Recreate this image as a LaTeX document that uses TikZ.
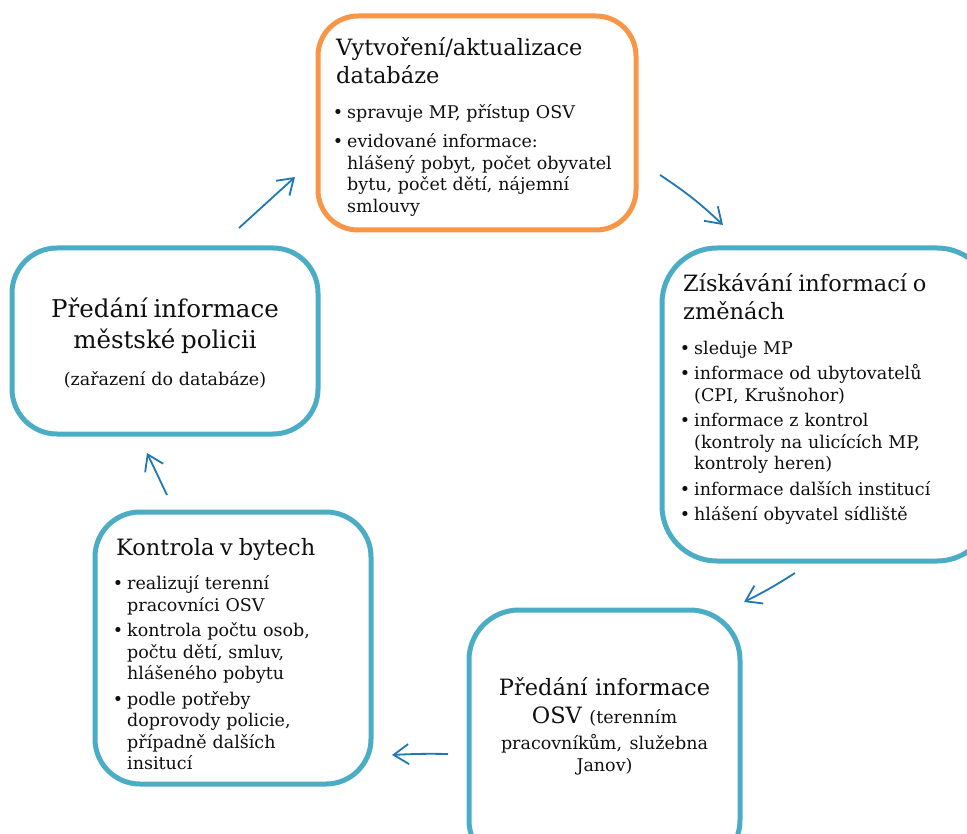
\documentclass[tikz,border=0pt]{standalone}
\usepackage{fontspec}
\setmainfont{DejaVu Serif}
\usepackage{enumitem}
\usepackage{tikz}
\usetikzlibrary{positioning}
\usetikzlibrary{calc}
\usetikzlibrary{arrows.meta}

\definecolor{boxblue}{RGB}{75,172,198}
\definecolor{boxorange}{RGB}{247,150,70}
\definecolor{arrowblue}{RGB}{31,119,180}
\definecolor{textgray}{RGB}{15,15,15}

\newcommand{\hdfont}{\fontsize{22.5}{28}\selectfont}
\newcommand{\bdfont}{\fontsize{17.5}{21.5}\selectfont}
\setlist[itemize]{label=\textbullet, leftmargin=11pt, labelsep=4pt, topsep=13pt, partopsep=0pt, parsep=0pt, itemsep=4pt}

\begin{document}
\begin{tikzpicture}[x=1pt, y=-1pt,
  box/.style={draw=boxblue, line width=5pt, rounded corners=45pt, anchor=north west, inner sep=0pt, outer sep=0pt},
  txt/.style={inner sep=0pt, anchor=base west, align=left, font=\bdfont, text=textgray},
  flow/.style={draw=arrowblue, line width=1.8pt, -{Straight Barb[length=15pt,width=20pt]}}]
\useasboundingbox (0,0) rectangle (967,834);

% boxes
\node[box, draw=boxorange, rounded corners=40pt, minimum width=318pt, minimum height=214pt] (db) at (318,16) {};
\node[box, rounded corners=55pt, minimum width=330pt, minimum height=313pt] (zmeny) at (662,248) {};
\node[box, rounded corners=50pt, minimum width=271pt, minimum height=260pt] (osv) at (469,610) {};
\node[box, minimum width=276pt, minimum height=272pt] (kontrola) at (95,512) {};
\node[box, minimum width=306pt, minimum height=186pt] (policie) at (12,248) {};

% texts
\node[txt, text width=290pt] (dbtxt) at ($(db.north west)+(18,40)$) {{\hdfont Vytvoření/aktualizace\\databáze\par}
\begin{itemize}[itemsep=8pt]
\item spravuje MP, přístup OSV
\item evidované informace:\\hlášený pobyt, počet obyvatel\\bytu, počet dětí, nájemní\\smlouvy
\end{itemize}};

\node[txt, text width=280pt] (zmtxt) at ($(zmeny.north west)+(21,44)$) {{\hdfont Získávání informací o\\změnách\par}
\begin{itemize}
\item sleduje MP
\item informace od ubytovatelů\\(CPI, Krušnohor)
\item informace z kontrol\\(kontroly na ulicících MP,\\kontroly heren)
\item informace dalších institucí
\item hlášení obyvatel sídliště
\end{itemize}};

\node[txt, text width=250pt] (ktxt) at ($(kontrola.north west)+(21,43)$) {{\hdfont Kontrola v bytech\par}
\begin{itemize}
\item realizují terenní\\pracovníci OSV
\item kontrola počtu osob,\\počtu dětí, smluv,\\hlášeného pobytu
\item podle potřeby\\doprovody policie,\\případně dalších\\insitucí
\end{itemize}};

\node[txt, anchor=base, align=center, text width=290pt] (poltxt) at ($(policie.north)+(0,70)$) {{\fontsize{24.5}{31}\selectfont Předání informace\\městské policii\par}
\vspace{15pt}
(zařazení do databáze)};

\node[txt, anchor=base, align=center, text width=260pt, font=\hdfont] (osvtxt) at ($(osv.north)+(0,85)$) {Předání informace\\OSV {\bdfont (terenním}\\[-2pt]{\bdfont pracovníkům, služebna}\\[-6pt]{\bdfont Janov)}};

% arrows
\coordinate (a1) at (239,228); \coordinate (b1) at (295,177);
\coordinate (a2) at (660,175); \coordinate (b2) at (723,225);
\coordinate (a3) at (795,573); \coordinate (b3) at (744,602);
\coordinate (a4) at (448,754); \coordinate (b4) at (392,755);
\coordinate (a5) at (167,495); \coordinate (b5) at (147,453);

\draw[flow] (a1) -- (b1);
\draw[flow] (a2) to[bend left=5] (b2);
\draw[flow] (a3) to[bend left=3] (b3);
\draw[flow] (a4) to[bend right=2] (b4);
\draw[flow] (a5) -- (b5);
\end{tikzpicture}
\end{document}
